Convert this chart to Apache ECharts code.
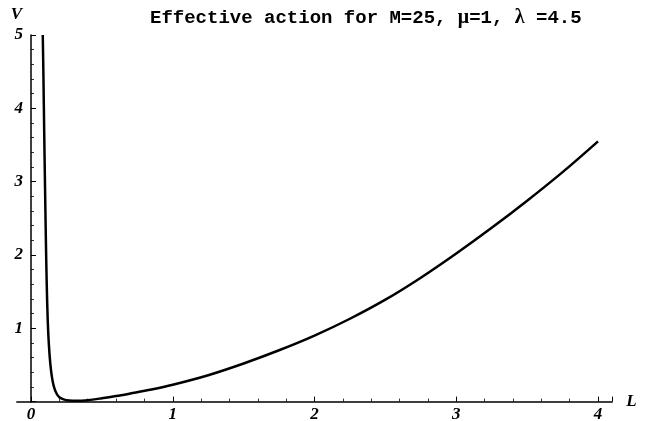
<!DOCTYPE html>
<html>
<head>
<meta charset="utf-8">
<script src="https://cdn.jsdelivr.net/npm/echarts@6/dist/echarts.min.js"></script>
<style>
html,body{margin:0;padding:0;background:#fff;}
#chart{width:659px;height:421px;}
</style>
</head>
<body>
<div id="chart"></div>
<script>
// Data
const L = [0.083,0.088,0.093,0.099,0.105,0.111,0.118,0.126,0.136,0.148,0.162,0.18,0.2,0.23,0.27,0.32,0.4,0.5,0.6,0.7,0.85,1.0,1.25,1.5,1.75,2.0,2.25,2.5,2.75,3.0,3.25,3.5,3.75,4.0];
const V = [5.0,4.4,3.7,2.93,2.2,1.6,1.11,0.78,0.52,0.33,0.2,0.11,0.06,0.03,0.015,0.012,0.02,0.045,0.075,0.11,0.165,0.23,0.36,0.52,0.70,0.90,1.13,1.39,1.69,2.02,2.37,2.74,3.13,3.55];
const titleParts = ['Effective action for M=25, ', 'μ', '=1, ', 'λ', ' =4.5'];

const chart = echarts.init(document.getElementById('chart'), null, {renderer:'canvas'});
const labelFont = {fontFamily:'Liberation Serif', fontWeight:'bold', fontStyle:'italic', fontSize:17, color:'#000'};
chart.setOption({
  backgroundColor:'#fff',
  animation:false,
  title:{
    left:145, top:3,
    text:'{m|'+titleParts[0]+'}{g|'+titleParts[1]+'}{m|'+titleParts[2]+'}{g|'+titleParts[3]+'}{m|'+titleParts[4]+'}',
    textStyle:{
      rich:{
        m:{fontFamily:'Liberation Mono', fontWeight:'bold', fontSize:19, color:'#000'},
        g:{fontFamily:'Liberation Serif', fontSize:20, color:'#000'}
      }
    }
  },
  grid:[
    {left:31, right:46.8, top:35, bottom:19.4, containLabel:false, outerBoundsMode:'none'},
    {left:16.8, width:14.2, top:35, bottom:19.4, containLabel:false, outerBoundsMode:'none'}
  ],
  xAxis:[{
    gridIndex:0, type:'value', min:0, max:4.1, interval:1,
    name:'L', nameLocation:'end', nameGap:14,
    nameTextStyle:Object.assign({}, labelFont, {padding:[4,0,0,0]}),
    axisLine:{show:true, lineStyle:{color:'#000', width:1.5}},
    axisTick:{show:true, inside:true, length:5, lineStyle:{color:'#000', width:1}},
    minorTick:{show:true, splitNumber:5, length:3, lineStyle:{color:'#000', width:0.8}},
    axisLabel:Object.assign({show:true, margin:5, showMaxLabel:false}, labelFont),
    splitLine:{show:false}
  },{
    gridIndex:1, type:'value', min:0, max:1,
    axisLine:{show:true, lineStyle:{color:'#000', width:1.5}},
    axisTick:{show:false}, axisLabel:{show:false}, splitLine:{show:false}
  }],
  yAxis:[{
    gridIndex:0, type:'value', min:0, max:5, interval:1,
    name:'V', nameLocation:'end', nameGap:12,
    nameTextStyle:Object.assign({}, labelFont, {align:'right', padding:[0,9,0,0]}),
    axisLine:{show:true, lineStyle:{color:'#000', width:1.5}},
    axisTick:{show:true, inside:true, length:5, lineStyle:{color:'#000', width:1}},
    minorTick:{show:true, splitNumber:5, length:3, lineStyle:{color:'#000', width:0.8}},
    axisLabel:Object.assign({show:true, margin:8, showMinLabel:false}, labelFont),
    splitLine:{show:false}
  },{
    gridIndex:1, type:'value', min:0, max:5, show:false
  }],
  series:[{
    type:'line',
    xAxisIndex:0, yAxisIndex:0,
    data:L.map((x,i)=>[x,V[i]]),
    showSymbol:false,
    smooth:0.35,
    lineStyle:{color:'#000', width:2.5},
    clip:true
  }]
});
</script>
</body>
</html>
